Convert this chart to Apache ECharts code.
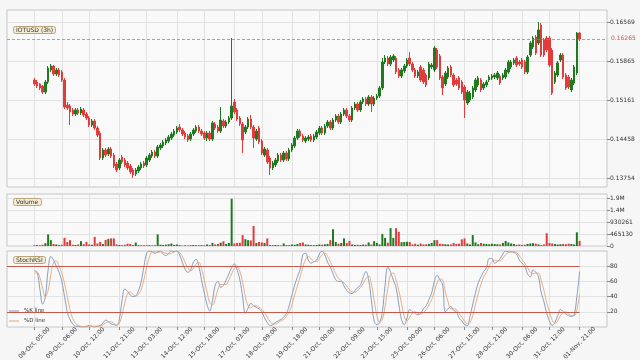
<!DOCTYPE html>
<html>
<head>
<meta charset="utf-8">
<style>
  html, body { margin: 0; padding: 0; background: #f6f6f6; }
  #main { width: 640px; height: 360px; }
</style>
<script src="https://cdn.jsdelivr.net/npm/echarts@6/dist/echarts.min.js"></script>
</head>
<body>
<div id="main"></div>
<script>
// candles: [open, close, low, high]
const ohlc = [
  [0.15522,0.15450,0.15414,0.15558],[0.15486,0.15414,0.15378,0.15522],[0.15450,0.15378,0.15342,0.15468],[0.15414,0.15305,0.15269,0.15432],[0.15305,0.15486,0.15269,0.15522],
  [0.15486,0.15739,0.15450,0.15775],[0.15703,0.15775,0.15666,0.15811],[0.15775,0.15630,0.15594,0.15793],[0.15630,0.15703,0.15594,0.15739],[0.15703,0.15612,0.15576,0.15739],
  [0.15666,0.15522,0.15486,0.15703],[0.15522,0.15035,0.14999,0.15558],[0.15071,0.15017,0.14981,0.15125],[0.15053,0.14945,0.14710,0.15089],[0.14981,0.14908,0.14872,0.15017],
  [0.14908,0.14981,0.14872,0.15017],[0.14981,0.14926,0.14890,0.15017],[0.14926,0.14999,0.14890,0.15035],[0.14981,0.14890,0.14854,0.15017],[0.14908,0.14836,0.14800,0.14945],
  [0.14836,0.14710,0.14674,0.14872],[0.14710,0.14782,0.14674,0.14818],[0.14782,0.14656,0.14620,0.14818],[0.14656,0.14529,0.14493,0.14692],[0.14565,0.14114,0.14078,0.14601],
  [0.14114,0.14259,0.14078,0.14295],[0.14259,0.14168,0.14132,0.14295],[0.14186,0.14277,0.14150,0.14313],[0.14277,0.14150,0.14114,0.14313],[0.14168,0.13970,0.13934,0.14204],
  [0.14006,0.13898,0.13862,0.14042],[0.13934,0.14078,0.13898,0.14114],[0.14132,0.14042,0.14006,0.14168],[0.14078,0.13988,0.13952,0.14114],[0.14024,0.13934,0.13898,0.14060],
  [0.13970,0.13862,0.13826,0.14006],[0.13898,0.13808,0.13754,0.13934],[0.13826,0.13898,0.13790,0.13934],[0.13879,0.13952,0.13844,0.13988],[0.13934,0.14006,0.13898,0.14042],
  [0.14024,0.13970,0.13934,0.14060],[0.13988,0.14114,0.13952,0.14150],[0.14078,0.14168,0.14042,0.14204],[0.14150,0.14222,0.14114,0.14259],[0.14222,0.14150,0.14114,0.14259],
  [0.14150,0.14313,0.14114,0.14349],[0.14295,0.14349,0.14259,0.14385],[0.14331,0.14403,0.14295,0.14439],[0.14385,0.14439,0.14349,0.14475],[0.14421,0.14493,0.14385,0.14529],
  [0.14475,0.14547,0.14439,0.14583],[0.14529,0.14601,0.14493,0.14638],[0.14583,0.14656,0.14547,0.14692],[0.14674,0.14620,0.14583,0.14728],[0.14620,0.14547,0.14511,0.14656],
  [0.14565,0.14493,0.14457,0.14601],[0.14511,0.14439,0.14403,0.14547],[0.14457,0.14547,0.14421,0.14583],[0.14547,0.14620,0.14511,0.14656],[0.14601,0.14674,0.14565,0.14710],
  [0.14674,0.14601,0.14565,0.14710],[0.14601,0.14547,0.14511,0.14638],[0.14565,0.14475,0.14439,0.14601],[0.14475,0.14565,0.14421,0.14601],[0.14565,0.14457,0.14421,0.14601],
  [0.14457,0.14746,0.14421,0.14782],[0.14728,0.14656,0.14620,0.14764],[0.14674,0.14601,0.14565,0.14710],[0.14601,0.14800,0.14565,0.15035],[0.14782,0.14692,0.14656,0.14818],
  [0.14692,0.14764,0.14656,0.14800],[0.14764,0.14836,0.14728,0.14872],[0.14836,0.15053,0.14800,0.16280],[0.15125,0.14945,0.14908,0.15179],[0.14981,0.14818,0.14782,0.15017],
  [0.14836,0.14728,0.14692,0.14872],[0.14728,0.14439,0.14204,0.14764],[0.14583,0.14674,0.14547,0.14710],[0.14674,0.14818,0.14638,0.14854],[0.14818,0.14674,0.14638,0.14890],
  [0.14674,0.14475,0.14295,0.14710],[0.14457,0.14601,0.14421,0.14638],[0.14656,0.14403,0.14367,0.14692],[0.14421,0.14204,0.14168,0.14457],[0.14168,0.14277,0.14132,0.14313],
  [0.14259,0.14042,0.14006,0.14295],[0.14114,0.13934,0.13808,0.14150],[0.13934,0.14024,0.13898,0.14060],[0.13988,0.14078,0.13952,0.14114],[0.14060,0.14168,0.14024,0.14204],
  [0.14168,0.14078,0.14042,0.14204],[0.14078,0.14204,0.14042,0.14241],[0.14204,0.14096,0.14060,0.14241],[0.14096,0.14259,0.14060,0.14295],[0.14259,0.14349,0.14222,0.14385],
  [0.14331,0.14475,0.14295,0.14511],[0.14475,0.14601,0.14439,0.14638],[0.14601,0.14511,0.14475,0.14638],[0.14511,0.14439,0.14403,0.14547],[0.14421,0.14475,0.14385,0.14511],
  [0.14457,0.14493,0.14421,0.14529],[0.14511,0.14439,0.14403,0.14547],[0.14439,0.14511,0.14403,0.14547],[0.14493,0.14583,0.14457,0.14620],[0.14565,0.14656,0.14529,0.14692],
  [0.14656,0.14565,0.14529,0.14692],[0.14565,0.14692,0.14529,0.14728],[0.14692,0.14764,0.14656,0.14800],[0.14764,0.14656,0.14620,0.14800],[0.14656,0.14800,0.14620,0.14836],
  [0.14800,0.14872,0.14764,0.14908],[0.14872,0.14764,0.14728,0.14908],[0.14764,0.14908,0.14728,0.14945],[0.14908,0.14981,0.14872,0.15017],[0.14981,0.14872,0.14836,0.15017],
  [0.14872,0.14800,0.14764,0.14908],[0.14800,0.15017,0.14764,0.15053],[0.15017,0.15089,0.14981,0.15125],[0.15089,0.14981,0.14945,0.15125],[0.14981,0.15125,0.14945,0.15161],
  [0.15125,0.15179,0.15089,0.15215],[0.15179,0.15089,0.15053,0.15215],[0.15089,0.15215,0.15053,0.15251],[0.15215,0.15089,0.14945,0.15251],[0.15089,0.15197,0.15053,0.15233],
  [0.15197,0.15233,0.15161,0.15269],[0.15233,0.15378,0.15197,0.15414],[0.15378,0.15847,0.15342,0.15919],[0.15847,0.15919,0.15811,0.15973],[0.15919,0.15811,0.15775,0.15955],
  [0.15811,0.15937,0.15775,0.15973],[0.15883,0.15955,0.15847,0.15991],[0.15919,0.15666,0.15630,0.15955],[0.15703,0.15594,0.15558,0.15739],[0.15594,0.15703,0.15558,0.15739],
  [0.15685,0.15775,0.15648,0.15811],[0.15775,0.15883,0.15739,0.15919],[0.15919,0.15811,0.15775,0.16027],[0.15811,0.15703,0.15666,0.15847],[0.15703,0.15594,0.15558,0.15739],
  [0.15594,0.15666,0.15558,0.15703],[0.15757,0.15522,0.15486,0.15793],[0.15703,0.15486,0.15450,0.15739],[0.15612,0.15432,0.15396,0.15648],[0.15558,0.15811,0.15522,0.15847],
  [0.15757,0.15793,0.15721,0.15829],[0.15703,0.16100,0.15666,0.16136],[0.16064,0.15757,0.15721,0.16100],[0.15955,0.15558,0.15522,0.15991],[0.15576,0.15378,0.15251,0.15612],
  [0.15450,0.15648,0.15414,0.15685],[0.15576,0.15739,0.15540,0.15775],[0.15757,0.15612,0.15576,0.15793],[0.15612,0.15432,0.15396,0.15648],[0.15522,0.15450,0.15414,0.15558],
  [0.15558,0.15378,0.15342,0.15594],[0.15486,0.15305,0.15269,0.15522],[0.15396,0.15161,0.14836,0.15432],[0.15107,0.15305,0.15071,0.15342],[0.15161,0.15287,0.15125,0.15324],
  [0.15215,0.15378,0.15179,0.15414],[0.15342,0.15522,0.15305,0.15558],[0.15432,0.15558,0.15396,0.15594],[0.15522,0.15342,0.15305,0.15558],[0.15378,0.15450,0.15342,0.15486],
  [0.15432,0.15486,0.15396,0.15522],[0.15522,0.15576,0.15486,0.15612],[0.15558,0.15594,0.15522,0.15630],[0.15576,0.15612,0.15540,0.15648],[0.15558,0.15648,0.15522,0.15685],
  [0.15594,0.15468,0.15432,0.15630],[0.15558,0.15612,0.15522,0.15648],[0.15576,0.15703,0.15540,0.15739],[0.15666,0.15847,0.15630,0.15883],[0.15757,0.15847,0.15721,0.15883],
  [0.15829,0.15883,0.15793,0.15919],[0.15919,0.15793,0.15757,0.15955],[0.15847,0.15811,0.15775,0.15883],[0.15883,0.15757,0.15721,0.15919],[0.15847,0.15666,0.15630,0.15883],
  [0.15666,0.15937,0.15630,0.15973],[0.15973,0.16190,0.15937,0.16226],[0.16118,0.16280,0.16082,0.16316],[0.16298,0.16009,0.15973,0.16334],[0.16190,0.16425,0.16154,0.16569],
  [0.16515,0.15973,0.15937,0.16551],[0.16244,0.15973,0.15937,0.16280],[0.16280,0.16064,0.16027,0.16316],[0.16280,0.15793,0.15757,0.16316],[0.16064,0.15287,0.15251,0.16100],
  [0.15486,0.15648,0.15450,0.15685],[0.15612,0.15829,0.15576,0.15865],[0.15883,0.15973,0.15847,0.16009],[0.15973,0.15576,0.15540,0.16009],[0.15612,0.15378,0.15342,0.15648],
  [0.15576,0.15396,0.15360,0.15612],[0.15342,0.15522,0.15305,0.15558],[0.15468,0.15757,0.15432,0.15793],[0.15648,0.16370,0.15612,0.16388],[0.16370,0.16265,0.16226,0.16388]
];

const volume = [
  30000,40000,30000,50000,110000,457000,230000,80000,60000,40000,
  50000,320000,160000,230000,50000,40000,60000,190000,70000,160000,
  60000,50000,360000,100000,160000,80000,240000,280000,300000,300000,
  60000,40000,30000,50000,90000,80000,40000,135000,30000,25000,
  30000,25000,30000,20000,30000,457000,50000,40000,50000,70000,
  100000,40000,60000,40000,20000,30000,20000,30000,40000,30000,
  30000,40000,30000,60000,40000,120000,60000,80000,130000,190000,
  80000,120000,1860522,100000,120000,130000,430000,270000,230000,220000,
  790000,120000,160000,140000,120000,300000,40000,30000,40000,30000,
  20000,100000,40000,30000,60000,50000,80000,120000,140000,60000,
  50000,40000,30000,40000,60000,50000,70000,80000,230000,660000,
  160000,90000,120000,300000,120000,200000,60000,40000,50000,40000,
  60000,50000,140000,60000,190000,120000,60000,470000,320000,130000,
  700000,320000,700000,560000,150000,160000,170000,160000,60000,90000,
  50000,100000,60000,70000,80000,120000,230000,230000,90000,80000,
  70000,60000,60000,120000,80000,90000,260000,300000,100000,60000,
  430000,140000,70000,120000,90000,80000,70000,90000,80000,70000,
  60000,120000,200000,140000,100000,80000,50000,60000,40000,50000,
  80000,100000,110000,90000,60000,40000,60000,500000,120000,100000,
  80000,60000,70000,80000,70000,90000,80000,60000,540000,200000
];

const stochK = [
  74,72,50,30,40,75,93,88,80,72, 60,40,20,10,4,1,1,0,0,1,
  2,1,0,1,2,5,9,7,4,3, 2,10,35,50,47,42,40,41,48,60,
  80,97,100,99,97,99,100,96,94,97, 100,99,100,95,85,76,72,75,85,89,
  80,62,45,30,21,35,55,60,52,55, 62,70,78,83,75,62,40,18,25,31,
  28,26,24,20,12,6,2,3,6,8, 10,13,18,28,42,55,66,76,95,97,
  88,84,86,88,96,100,95,85,79,70, 62,60,60,54,48,45,44,48,52,55,
  65,73,62,35,8,3,6,20,55,79, 72,62,52,30,10,3,12,23,20,18,
  16,18,24,28,36,45,60,68,62,55, 20,24,27,22,20,12,8,3,2,14,
  30,45,58,66,73,78,90,90,84,86, 90,96,100,99,99,98,96,88,84,80,
  70,66,75,72,66,45,33,18,8,2, 6,15,23,20,17,15,14,16,40,73
];

const stochD = [
  70,72,65,51,40,48,69,85,87,80, 71,57,40,23,11,5,2,1,0,0,
  1,1,1,1,1,3,5,7,7,5, 3,5,16,32,44,46,43,41,43,50,
  63,79,92,99,99,98,99,98,97,96, 97,99,100,98,93,85,78,74,77,83,
  85,77,62,46,32,29,37,50,56,56, 56,62,70,77,79,73,59,40,28,25,
  28,28,26,23,19,13,7,4,4,6, 8,10,14,20,29,42,54,66,79,89,
  93,90,86,86,90,95,97,93,86,78, 70,64,61,58,54,49,46,46,48,52,
  57,64,67,57,35,15,6,10,27,51, 69,71,62,48,31,14,8,13,18,20,
  18,17,19,23,29,36,47,58,63,62, 46,33,24,24,23,18,13,8,4,6,
  15,30,44,56,66,72,80,86,88,87, 87,91,95,98,99,99,98,94,89,84,
  78,72,70,71,71,61,48,32,20,9, 5,8,15,19,20,17,15,15,23,43
];

const tickIdx = [0, 10, 20, 31, 41, 52, 62, 73, 83, 94, 104, 115, 125, 136, 146, 157, 167, 178, 188, 199];
const tickLabels = [
  '08-Oct, 05:00', '09-Oct, 06:00', '10-Oct, 12:00', '11-Oct, 21:00', '13-Oct, 03:00',
  '14-Oct, 12:00', '15-Oct, 18:00', '17-Oct, 03:00', '18-Oct, 09:00', '19-Oct, 18:00',
  '21-Oct, 00:00', '22-Oct, 09:00', '23-Oct, 15:00', '25-Oct, 00:00', '26-Oct, 06:00',
  '27-Oct, 15:00', '28-Oct, 21:00', '30-Oct, 06:00', '31-Oct, 12:00', '01-Nov, 21:00'
];
const priceTicks = [0.13754, 0.14458, 0.15161, 0.15865, 0.16569];
const volumeTicks = [0, 465130, 930261, 1395391, 1860522];
const stochTicks = [20, 40, 60, 80];
const stochLevels = [80, 20];
const lastPrice = 0.16265;

const UP = '#1f7a1f';
const DOWN = '#e23b3b';
const FONT = 'DejaVu Sans';
const PAD = 10;   // empty slots left and right of the candles

function initChart() {
    const chartDom = document.getElementById('main');
    const myChart = echarts.init(chartDom, null, { renderer: 'canvas' });

    // padded category slots
    const n = ohlc.length;
    const slots = [];
    for (let i = 0; i < n + 2 * PAD; i++) slots.push(i);
    const empty = new Array(PAD).fill('-');
    const blank = new Array(n + 2 * PAD).fill('-');
    const labelAt = {};
    tickIdx.forEach((t, k) => { labelAt[t + PAD] = tickLabels[k]; });
    const isTick = (index) => labelAt[index] !== undefined;

    const volData = volume.map((v, i) => ({
        value: v,
        itemStyle: { color: ohlc[i][1] >= ohlc[i][0] ? UP : DOWN }
    }));

    const gridBase = { left: 7, right: 33, show: true, backgroundColor: '#f9f9f9', borderColor: '#c6c6c6', borderWidth: 1, outerBoundsMode: 'none' };

    const xAxisBase = (gi, labels) => ({
        type: 'category',
        gridIndex: gi,
        data: slots,
        boundaryGap: false,
        axisLine: { show: false },
        axisTick: { show: labels, interval: isTick, length: 3, lineStyle: { color: '#888' } },
        axisLabel: {
            show: labels,
            interval: isTick,
            rotate: 45,
            align: 'center',
            verticalAlign: 'middle',
            fontSize: 6,
            fontFamily: FONT,
            color: '#333',
            margin: 16,
            formatter: (v, idx) => labelAt[idx] || ''
        },
        splitLine: { show: true, interval: isTick, lineStyle: { color: '#e2e2e2', width: 1 } }
    });

    const yAxisBase = (gi, min, max, ticks, fmt) => ({
        type: 'value',
        gridIndex: gi,
        position: 'right',
        min: min,
        max: max,
        axisLine: { show: false },
        axisTick: { show: true, length: 3, customValues: ticks, lineStyle: { color: '#888' } },
        axisLabel: { customValues: ticks, fontSize: 6, fontFamily: FONT, color: '#333', margin: 3, formatter: fmt },
        splitLine: { show: true, lineStyle: { color: '#e2e2e2', width: 1 } }
    });

    const titleBox = (text, top) => ({
        text: text,
        left: 13,
        top: top,
        padding: [1, 3, 1, 3],
        backgroundColor: '#f4ecd4',
        borderColor: '#b9a57a',
        borderWidth: 1,
        borderRadius: 2,
        textStyle: { fontSize: 6, fontWeight: 'normal', fontFamily: FONT, color: '#333' }
    });

    let option;
    option = {
        animation: false,
        backgroundColor: '#f6f6f6',
        title: [
            titleBox('IOTUSD (3h)', 26),
            titleBox('Volume', 198),
            titleBox('StochRSI', 256)
        ],
        legend: {
            data: ['%K line', '%D line'],
            orient: 'vertical',
            left: 9,
            top: 308,
            icon: 'rect',
            itemWidth: 10,
            itemHeight: 1,
            itemGap: 4,
            padding: 0,
            textStyle: { fontSize: 5.5, fontFamily: FONT, color: '#333' }
        },
        grid: [
            Object.assign({ top: 10, height: 177 }, gridBase),
            Object.assign({ top: 194, height: 52 }, gridBase),
            Object.assign({ top: 251, height: 76 }, gridBase)
        ],
        xAxis: [xAxisBase(0, false), xAxisBase(1, false), xAxisBase(2, true)],
        yAxis: [
            yAxisBase(0, 0.13591, 0.16786, priceTicks, (v) => v.toFixed(5)),
            yAxisBase(1, 0, 2046574, volumeTicks, (v) => v >= 1e6 ? (v / 1e6).toFixed(1) + 'M' : String(Math.round(v))),
            yAxisBase(2, 0, 100, stochTicks, (v) => String(v))
        ],
        series: [
            {
                name: 'IOTUSD',
                type: 'candlestick',
                xAxisIndex: 0,
                yAxisIndex: 0,
                barWidth: 2,
                data: empty.concat(ohlc, empty),
                itemStyle: { color: UP, color0: DOWN, borderColor: UP, borderColor0: DOWN, borderWidth: 1 }
            },
            {
                // carrier for the last price line
                name: 'last',
                type: 'line',
                xAxisIndex: 0,
                yAxisIndex: 0,
                data: blank,
                showSymbol: false,
                markLine: {
                    silent: true,
                    symbol: 'none',
                    precision: 5,
                    data: [{ yAxis: lastPrice }],
                    lineStyle: { color: '#e05a5a', type: [3, 2], width: 0.8, opacity: 0.9 },
                    label: { position: 'end', formatter: lastPrice.toFixed(5), color: '#d0403c', fontSize: 6, fontFamily: FONT, distance: 4 }
                }
            },
            {
                name: 'Volume',
                type: 'bar',
                xAxisIndex: 1,
                yAxisIndex: 1,
                barWidth: 2,
                data: empty.concat(volData, empty)
            },
            {
                name: '%K line',
                type: 'line',
                xAxisIndex: 2,
                yAxisIndex: 2,
                showSymbol: false,
                smooth: 0.4,
                data: empty.concat(stochK, empty),
                lineStyle: { color: '#7894b8', width: 0.9 },
                itemStyle: { color: '#7894b8' },
                markLine: {
                    silent: true,
                    symbol: 'none',
                    label: { show: false },
                    lineStyle: { color: '#c8584a', type: 'solid', width: 1 },
                    data: stochLevels.map((v) => [{ coord: [0, v] }, { coord: [n - 1 + PAD, v] }])
                }
            },
            {
                name: '%D line',
                type: 'line',
                xAxisIndex: 2,
                yAxisIndex: 2,
                showSymbol: false,
                smooth: 0.4,
                data: empty.concat(stochD, empty),
                lineStyle: { color: '#e3a679', width: 0.9 },
                itemStyle: { color: '#e3a679' }
            }
        ]
    };
    option && myChart.setOption(option);
    window.addEventListener('resize', () => {
        myChart.resize();
    });
}

initChart();
</script>
</body>
</html>
